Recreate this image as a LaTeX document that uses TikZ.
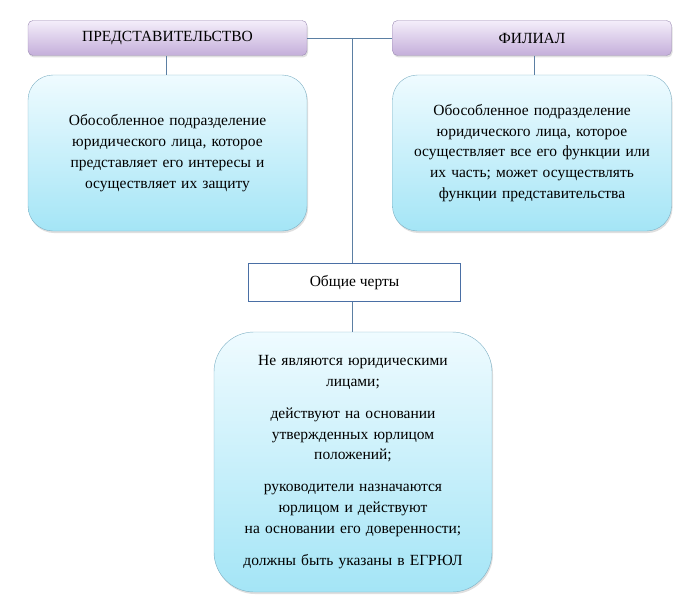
\documentclass[tikz,border=0pt]{standalone}
\usepackage{fontspec}
\setmainfont{Liberation Serif}
\usetikzlibrary{shadows}

\definecolor{headtop}{HTML}{F4EEFA}
\definecolor{headbot}{HTML}{C4AEDA}
\definecolor{headline}{HTML}{9C8CB4}
\definecolor{bodytop}{HTML}{EFFBFF}
\definecolor{bodybot}{HTML}{A4E5F6}
\definecolor{bodyline}{HTML}{7DB0C4}
\definecolor{linkline}{HTML}{5B7FA3}
\definecolor{framel}{HTML}{4A6FA5}

\tikzset{
  headbox/.style={draw=headline, top color=headtop, bottom color=headbot,
    rounded corners=5pt, minimum width=279pt, minimum height=35pt,
    drop shadow={opacity=0.25, shadow xshift=1pt, shadow yshift=-2pt},
    font=\fontsize{15.5}{18}\selectfont},
  bodybox/.style={draw=bodyline, top color=bodytop, bottom color=bodybot,
    rounded corners=25pt, minimum width=279pt, minimum height=156pt,
    align=center, text width=262pt,
    drop shadow={opacity=0.25, shadow xshift=1pt, shadow yshift=-2pt},
    font=\fontsize{15.5}{20.8}\selectfont},
  link/.style={draw=linkline, line width=0.7pt}
}

\begin{document}
\begin{tikzpicture}[x=1pt,y=-1pt]
    \useasboundingbox (0,0) rectangle (700,615);

    \node[headbox] at (167.5,38) (rep) {ПРЕДСТАВИТЕЛЬСТВО};
    \node[headbox] at (532,38) (fil) {ФИЛИАЛ};
    \node[bodybox] at (167.5,153) (repdef) {Обособленное подразделение\\юридического лица, которое\\представляет его интересы и\\осуществляет их защиту};
    \node[bodybox] at (532,153) (fildef) {Обособленное подразделение\\юридического лица, которое\\осуществляет все его функции или\\их часть; может осуществлять\\функции представительства};
    \node[draw=framel, line width=1.6pt, fill=white, minimum width=212pt, minimum height=38pt,
      font=\fontsize{15.5}{18}\selectfont] at (354.5,282.5) (common) {Общие черты};
    \node[bodybox, rounded corners=40pt, minimum width=278pt, minimum height=260pt,
      text width=262pt] at (353,462) (traits) {Не являются юридическими\\лицами;\\[11pt]
      действуют на основании\\утвержденных юрлицом\\положений;\\[11pt]
      руководители назначаются\\юрлицом и действуют\\на основании его доверенности;\\[11pt]
      должны быть указаны в ЕГРЮЛ};
    \coordinate (hub) at (352,38);

    \draw[link] (rep.east) -- (fil.west);
    \draw[link] (hub) -- (hub |- common.north);
    \draw[link] (rep.south -| 166,0) -- (repdef.north -| 166,0);
    \draw[link] (fil.south -| 534,0) -- (fildef.north -| 534,0);
    \draw[link] (common.south -| hub) -- (traits.north -| hub);
\end{tikzpicture}
\end{document}
